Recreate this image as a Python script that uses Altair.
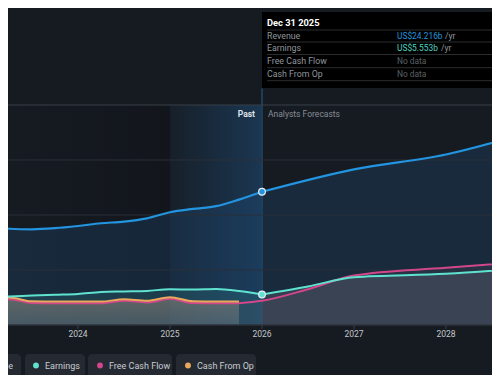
import altair as alt
import pandas as pd

# ---------------- data (billions US$) ----------------
rev_past_t = [2023.0, 2023.25, 2023.5, 2023.75, 2024.0, 2024.25, 2024.5, 2024.75, 2025.0, 2025.25, 2025.5, 2025.75, 2026.0]
rev_past_v = [17.8, 17.5, 17.4, 17.6, 18.0, 18.5, 18.8, 19.4, 20.5, 21.1, 21.6, 22.8, 24.216]
rev_fc_t = [2026.0, 2027.0, 2028.0, 2029.0]
rev_fc_v = [24.216, 28.3, 31.0, 35.5]

earn_past_t = [2023.0, 2023.25, 2023.5, 2023.75, 2024.0, 2024.25, 2024.5, 2024.75, 2025.0, 2025.25, 2025.5, 2025.75, 2026.0]
earn_past_v = [5.0, 5.2, 5.35, 5.5, 5.65, 6.0, 6.1, 6.2, 6.5, 6.45, 6.55, 6.2, 5.553]
earn_fc_t = [2026.0, 2026.5, 2027.0, 2028.0, 2029.0]
earn_fc_v = [5.553, 7.0, 8.7, 9.3, 10.5]

cfo_past_t = [2023.0, 2023.25, 2023.5, 2023.75, 2024.0, 2024.25, 2024.5, 2024.75, 2025.0, 2025.25, 2025.5, 2025.75]
cfo_past_v = [5.0, 5.0, 4.3, 4.25, 4.25, 4.25, 4.7, 4.4, 5.05, 4.3, 4.25, 4.25]

fcf_past_t = [2023.0, 2023.25, 2023.5, 2023.75, 2024.0, 2024.25, 2024.5, 2024.75, 2025.0, 2025.25, 2025.5, 2025.75]
fcf_past_v = [4.7, 4.7, 4.0, 3.95, 3.95, 3.95, 4.4, 4.1, 4.75, 4.0, 3.95, 3.95]
fcf_fc_t = [2025.75, 2026.0, 2026.5, 2027.0, 2028.0, 2029.0]
fcf_fc_v = [3.95, 4.4, 6.5, 9.0, 10.4, 11.7]

year_ticks = [2024, 2025, 2026, 2027, 2028]
grid_values = [10, 20, 30]
past_start, past_end = 2025.0, 2026.0

tip_date = "Dec 31 2025"
tip_labels = ["Revenue", "Earnings", "Free Cash Flow", "Cash From Op"]
tip_values = ["US$24.216b", "US$5.553b", "No data", "No data"]
legend_labels = ["Revenue", "Earnings", "Free Cash Flow", "Cash From Op"]

# ---------------- styling ----------------
BG = "#161b22"
C_REV = "#2394df"
C_EARN = "#5fe3d0"
C_FCF = "#d2468a"
C_CFO = "#e9a95c"
FONT = "Roboto"

W, H = 484, 367
X_DOMAIN = [2023.2391, 2028.5]
Y_DOMAIN = [-9.091, 57.636]


def X(f):
    return alt.X(f"{f}:Q", scale=alt.Scale(domain=X_DOMAIN, nice=False, zero=False), axis=None)


def Y(f):
    return alt.Y(f"{f}:Q", scale=alt.Scale(domain=Y_DOMAIN, nice=False, zero=False), axis=None)


def df(t, v):
    return pd.DataFrame({"t": t, "v": v, "z": [0.0] * len(t)})


def one():
    return pd.DataFrame({"a": [0]})


layers = []

# darker plot region left of the past band
region = pd.DataFrame({"t0": [X_DOMAIN[0]], "t1": [past_start], "v0": [0.0], "v1": [40.0]})
layers.append(
    alt.Chart(region).mark_rect(
        fill=alt.Gradient(gradient="linear", x1=0, x2=1, y1=0, y2=0,
                          stops=[alt.GradientStop(color="rgba(0,0,0,0.0)", offset=0),
                                 alt.GradientStop(color="rgba(0,0,0,0.18)", offset=1)])
    ).encode(x=X("t0"), x2="t1", y=Y("v1"), y2="v0")
)

# past band
band = pd.DataFrame({"t0": [past_start], "t1": [past_end], "v0": [0.0], "v1": [40.0]})
layers.append(
    alt.Chart(band).mark_rect(
        fill=alt.Gradient(gradient="linear", x1=0, x2=1, y1=0, y2=0,
                          stops=[alt.GradientStop(color="rgba(35,100,160,0.06)", offset=0),
                                 alt.GradientStop(color="rgba(35,100,160,0.38)", offset=1)])
    ).encode(x=X("t0"), x2="t1", y=Y("v1"), y2="v0")
)

# hover line
hover = pd.DataFrame({"t": [past_end], "v0": [0.0], "v1": [43.0]})
layers.append(
    alt.Chart(hover).mark_rule(color="#1f3c57", strokeWidth=2).encode(x=X("t"), y=Y("v1"), y2="v0")
)

# revenue area
rev_all = df(rev_past_t + rev_fc_t[1:], rev_past_v + rev_fc_v[1:])
layers.append(
    alt.Chart(rev_all).mark_area(color="#1f4a72", opacity=0.33, interpolate="monotone", clip=True)
    .encode(x=X("t"), y=Y("v"), y2="z")
)

# earnings past area (teal tint)
layers.append(
    alt.Chart(df(earn_past_t, earn_past_v)).mark_area(color="#3fb7b0", opacity=0.16, interpolate="monotone", clip=True)
    .encode(x=X("t"), y=Y("v"), y2="z")
)

# forecast grey area
layers.append(
    alt.Chart(df(earn_fc_t, earn_fc_v)).mark_area(color="#4a5160", opacity=0.55, interpolate="monotone", clip=True)
    .encode(x=X("t"), y=Y("v"), y2="z")
)
layers.append(
    alt.Chart(df(fcf_fc_t, fcf_fc_v)).mark_area(color="#4a5160", opacity=0.25, interpolate="monotone", clip=True)
    .encode(x=X("t"), y=Y("v"), y2="z")
)

# cash from op past area
layers.append(
    alt.Chart(df(cfo_past_t, cfo_past_v)).mark_area(
        interpolate="monotone", clip=True,
        fill=alt.Gradient(gradient="linear", x1=0, x2=0, y1=0, y2=1,
                          stops=[alt.GradientStop(color="rgba(150,135,120,0.55)", offset=0),
                                 alt.GradientStop(color="rgba(120,120,128,0.45)", offset=1)])
    ).encode(x=X("t"), y=Y("v"), y2="z")
)

# grid lines
layers.append(
    alt.Chart(pd.DataFrame({"v": grid_values})).mark_rule(color="#2b3039", strokeWidth=1)
    .encode(y=Y("v"), x=alt.value(0), x2=alt.value(W))
)
layers.append(
    alt.Chart(pd.DataFrame({"v": [40]})).mark_rule(color="#3a3f47", strokeWidth=1)
    .encode(y=Y("v"), x=alt.value(0), x2=alt.value(W))
)
layers.append(
    alt.Chart(pd.DataFrame({"v": [0]})).mark_rule(color="#2e333b", strokeWidth=1.5)
    .encode(y=Y("v"), x=alt.value(0), x2=alt.value(W))
)


# lines
def line(t, v, color, w=2):
    return alt.Chart(df(t, v)).mark_line(color=color, strokeWidth=w, interpolate="monotone", clip=True).encode(
        x=X("t"), y=Y("v"))


layers.append(line(fcf_past_t, fcf_past_v, C_FCF))
layers.append(line(cfo_past_t, cfo_past_v, C_CFO))
layers.append(line(fcf_fc_t, fcf_fc_v, C_FCF))
layers.append(line(earn_past_t, earn_past_v, C_EARN))
layers.append(line(earn_fc_t, earn_fc_v, C_EARN))
layers.append(line(rev_past_t, rev_past_v, C_REV, 2.2))
layers.append(line(rev_fc_t, rev_fc_v, C_REV, 2.2))

# highlighted points
pts = pd.DataFrame({"t": [rev_past_t[-1], earn_past_t[-1]], "v": [rev_past_v[-1], earn_past_v[-1]],
                    "c": [C_REV, C_EARN]})
layers.append(
    alt.Chart(pts).mark_point(filled=True, size=45, stroke="#e8eef5", strokeWidth=1.2, opacity=1)
    .encode(x=X("t"), y=Y("v"), fill=alt.Fill("c:N", scale=None))
)

# x ticks and labels
yrs = pd.DataFrame({"t": year_ticks, "lab": [str(y) for y in year_ticks]})
layers.append(
    alt.Chart(yrs).mark_rule(color="#3a3f47").encode(x=X("t"), y=alt.value(317), y2=alt.value(321))
)
layers.append(
    alt.Chart(yrs).mark_text(color="#c3c7cc", fontSize=8.5, font=FONT, baseline="middle")
    .encode(x=X("t"), y=alt.value(326), text="lab:N")
)

# Past / Analysts Forecasts labels
layers.append(
    alt.Chart(one()).mark_text(text="Past", color="#dfe3e8", fontSize=8.5, font=FONT,
                               fontWeight="bold", align="right", baseline="middle")
    .encode(x=alt.value(247), y=alt.value(105.5))
)
layers.append(
    alt.Chart(one()).mark_text(text="Analysts Forecasts", color="#868c94", fontSize=8.5,
                               font=FONT, align="left", baseline="middle")
    .encode(x=alt.value(260), y=alt.value(105.5))
)

# tooltip box
layers.append(
    alt.Chart(one()).mark_rect(color="#000000")
    .encode(x=alt.value(254), x2=alt.value(W + 10), y=alt.value(4), y2=alt.value(80))
)
layers.append(
    alt.Chart(one()).mark_text(text=tip_date, color="#ffffff", fontSize=9.3, font=FONT,
                               fontWeight="bold", align="left", baseline="middle")
    .encode(x=alt.value(259), y=alt.value(14.5))
)
row_y = [27.8, 40.3, 53.3, 65.7]
sep_y = [22, 34, 46.5, 59.7, 72.7]
for sy in sep_y:
    layers.append(
        alt.Chart(one()).mark_rule(color="#2a2c30", strokeWidth=1)
        .encode(x=alt.value(259), x2=alt.value(W), y=alt.value(sy))
    )
val_colors = [C_REV, "#4fd3c0", "#5b6066", "#5b6066"]
for lab, val, col, ry in zip(tip_labels, tip_values, val_colors, row_y):
    layers.append(
        alt.Chart(one()).mark_text(text=lab, color="#8f959c", fontSize=8.8, font=FONT,
                                   align="left", baseline="middle")
        .encode(x=alt.value(259), y=alt.value(ry))
    )
    layers.append(
        alt.Chart(one()).mark_text(text=val, color=col, fontSize=8.4, font=FONT,
                                   align="left", baseline="middle")
        .encode(x=alt.value(389), y=alt.value(ry))
    )
yr_x = [437, 433]
for i, xx in enumerate(yr_x):
    layers.append(
        alt.Chart(one()).mark_text(text="/yr", color="#8f959c", fontSize=8.6, font=FONT,
                                   align="left", baseline="middle")
        .encode(x=alt.value(xx), y=alt.value(row_y[i]))
    )

# legend pills
pills = [(-60, 13), (17, 77), (80, 164), (168, 248)]
dot_x = [-30, 28, 92, 180]
txt_x = [5, 37, 101, 189]
dot_cols = [C_REV, C_EARN, C_FCF, C_CFO]
for i, (a, b) in enumerate(pills):
    layers.append(
        alt.Chart(one()).mark_rect(color="#252a32", cornerRadius=4)
        .encode(x=alt.value(a), x2=alt.value(b), y=alt.value(346), y2=alt.value(369))
    )
    layers.append(
        alt.Chart(one()).mark_point(filled=True, size=34, color=dot_cols[i], opacity=1)
        .encode(x=alt.value(dot_x[i]), y=alt.value(357.5))
    )
    layers.append(
        alt.Chart(one()).mark_text(text=legend_labels[i], color="#c8ccd1", fontSize=9,
                                   font=FONT, align="right" if i == 0 else "left",
                                   baseline="middle")
        .encode(x=alt.value(txt_x[i]), y=alt.value(357.5))
    )

chart = alt.layer(*layers).properties(
    width=W, height=H, background=BG, padding=0,
    autosize=alt.AutoSizeParams(type="none"),
).configure_view(strokeWidth=0)

chart.save("out.html", embed_options={"renderer": "svg", "actions": False})
